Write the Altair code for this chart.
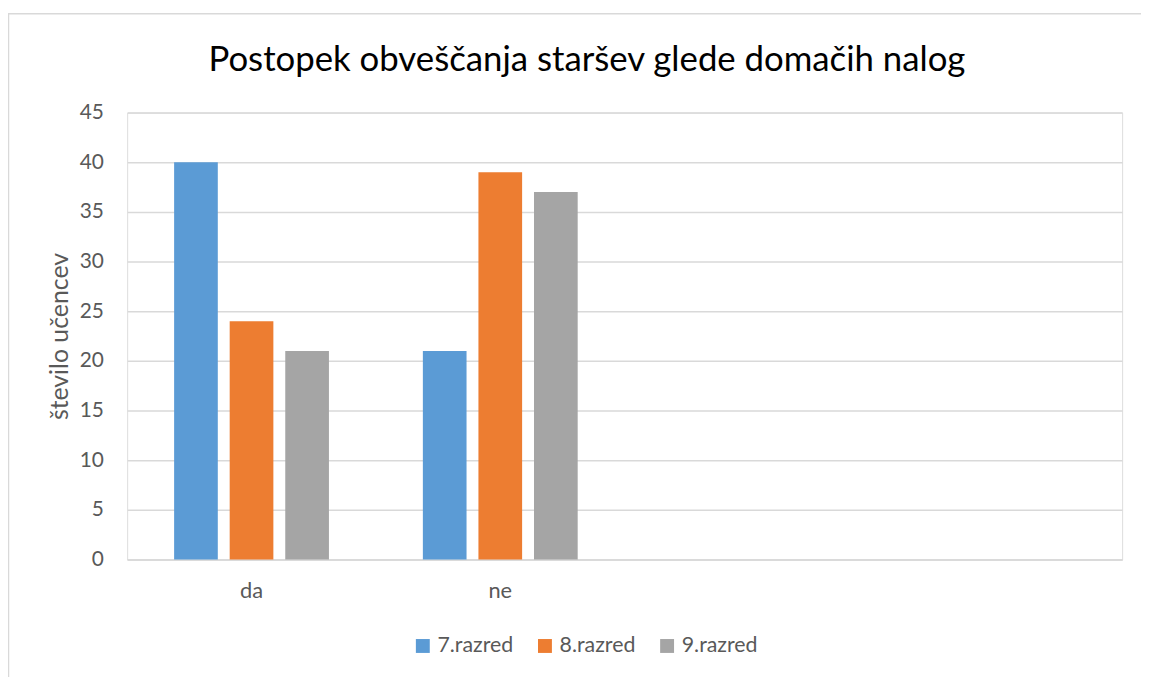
import altair as alt
import pandas as pd

categories = ["da", "ne"]
slots = ["da", "ne", "_3", "_4"]
series = ["7.razred", "8.razred", "9.razred"]
values_7 = [40, 21]
values_8 = [24, 39]
values_9 = [21, 37]
colors = ["#5B9BD5", "#ED7D31", "#A5A5A5"]
y_ticks = [0, 5, 10, 15, 20, 25, 30, 35, 40, 45]

rows = []
for s, vals in zip(series, [values_7, values_8, values_9]):
    for c, v in zip(categories, vals):
        rows.append({"kategorija": c, "razred": s, "vrednost": v})
df = pd.DataFrame(rows)

FONT = "Lato"
TXT = "#595959"
GRID = "#D9D9D9"

bars = alt.Chart(df).mark_bar().encode(
    x=alt.X("kategorija:N", sort=slots,
            scale=alt.Scale(domain=slots, paddingInner=0, paddingOuter=0),
            axis=alt.Axis(title=None, labelAngle=0, ticks=False, tickSize=0,
                          domainColor=GRID, domainWidth=1.5,
                          labelExpr="indexof(['da','ne'], datum.value) >= 0 ? datum.value : ''",
                          labelFontSize=22, labelColor=TXT, labelFont=FONT,
                          labelPadding=21)),
    xOffset=alt.XOffset("razred:N", sort=series,
                        scale=alt.Scale(domain=series, paddingInner=0.214, paddingOuter=0.845)),
    y=alt.Y("vrednost:Q", scale=alt.Scale(domain=[0, 45], nice=False),
            axis=alt.Axis(title="število učencev", values=y_ticks, grid=True,
                          gridColor=GRID, gridWidth=1.5, domain=False, ticks=False,
                          tickSize=0, labelPadding=24, labelFontSize=21,
                          labelColor=TXT, labelFont=FONT,
                          titleFontSize=25, titleFont=FONT, titleColor=TXT,
                          titleFontWeight="normal", titleAngle=270,
                          titleX=-68, titleY=225, titleAlign="center",
                          titleBaseline="middle")),
    color=alt.Color("razred:N", sort=series,
                    scale=alt.Scale(domain=series, range=colors),
                    legend=alt.Legend(title=None, orient="none", direction="horizontal",
                                      legendX=287, legendY=526,
                                      symbolType="square", symbolSize=196,
                                      symbolStrokeWidth=0, labelFontSize=21.5,
                                      labelColor=TXT, labelFont=FONT,
                                      labelOffset=4, columnPadding=21)),
)

frame = alt.Data(values=[{}])
top_rule = alt.Chart(frame).mark_rule(color=GRID, strokeWidth=1.5).encode(
    x=alt.value(-120), x2=alt.value(1021), y=alt.value(-99.5))
left_rule = alt.Chart(frame).mark_rule(color=GRID, strokeWidth=1.5).encode(
    x=alt.value(-119.5), y=alt.value(-100), y2=alt.value(570))

chart = alt.layer(bars, top_rule, left_rule).properties(
    width=1002, height=450,
    title=alt.TitleParams("Postopek obveščanja staršev glede domačih nalog",
                          fontSize=35, font=FONT, fontWeight="normal",
                          color="#000000", anchor="middle", dx=-38, offset=-66),
    autosize=alt.AutoSizeParams(type="none"),
    padding={"left": 120, "top": 103, "right": 19, "bottom": 116},
).configure_view(stroke=None).configure(background="white")

chart.save("out.html", embed_options={"renderer": "svg", "actions": False})
